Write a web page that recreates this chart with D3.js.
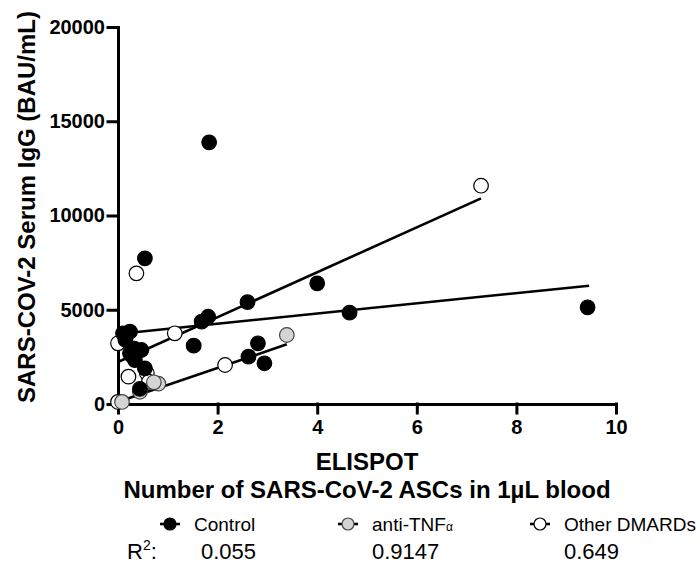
<!DOCTYPE html>
<html>
<head>
<meta charset="utf-8">
<script src="https://cdn.jsdelivr.net/npm/d3@7"></script>
<style>
  body { margin: 0; background: #fff; }
  text { font-family: "Liberation Sans", Arial, sans-serif; }
  .axis text { font-size: 20px; font-weight: bold; fill: #000; }
</style>
</head>
<body>
<svg id="chart" width="700" height="567"></svg>
<script>
// values
var groups = ['Control', 'anti-TNF', 'Other DMARDs'];
var r2Labels = ['0.055', '0.9147', '0.649'];
var xTicks = [0, 2, 4, 6, 8, 10];
var yTicks = [0, 5000, 10000, 15000, 20000];

var controlX = [0.10, 0.24, 0.24, 0.34, 0.47, 0.27, 0.54, 0.44, 0.54, 1.83, 1.52, 1.68, 1.81, 2.60, 2.81, 2.62, 2.94, 4.00, 4.65, 9.43, 0.33, 0.15];
var controlY = [3750, 3835, 2690, 2330, 2865, 2580, 1890, 800, 7730, 13880, 3095, 4366, 4630, 5400, 3220, 2510, 2160, 6400, 4845, 5130, 2930, 3400];

var tnfX = [0.08, 0.44, 0.81, 0.72, 3.39];
var tnfY = [110, 650, 1080, 1150, 3660];

var otherX = [0.00, 0.00, 0.21, 0.37, 0.58, 0.62, 1.14, 2.15, 7.29];
var otherY = [3220, 110, 1450, 6930, 1630, 1180, 3750, 2070, 11580];

// regression lines: intercept, slope, x from, x to
var fitIntercept = [3720, 110, 2230];
var fitSlope = [270, 901, 1190];
var fitFrom = [0.04, 0.08, 0.0];
var fitTo = [9.46, 3.39, 7.29];

var fills = ['#000', '#d4d4d4', '#fff'];
var strokes = ['#000', '#444', '#000'];

var svg = d3.select('#chart');
var x = d3.scaleLinear().domain([0, 10]).range([118, 616]);
var y = d3.scaleLinear().domain([0, 20000]).range([404, 27]);

// axes
var xAxis = svg.append('g').attr('class', 'axis').attr('transform', 'translate(0,404)')
    .call(d3.axisBottom(x).tickValues(xTicks).tickSize(9).tickSizeOuter(0).tickPadding(7).tickFormat(d3.format('d')));
var yAxis = svg.append('g').attr('class', 'axis').attr('transform', 'translate(118,0)')
    .call(d3.axisLeft(y).tickValues(yTicks).tickSize(10).tickSizeOuter(0).tickPadding(3).tickFormat(d3.format('d')));
[xAxis, yAxis].forEach(function(a){
    a.attr('font-size', 20).attr('font-weight', 'bold').attr('font-family', '"Liberation Sans", Arial, sans-serif');
    a.selectAll('path, line').attr('stroke', '#000').attr('stroke-width', 3).attr('stroke-linecap', 'square');
});

// fit lines
var lines = svg.append('g');
for (var i = 0; i < groups.length; i++){
    lines.append('line')
        .attr('x1', x(fitFrom[i])).attr('y1', y(fitIntercept[i] + fitSlope[i]*fitFrom[i]))
        .attr('x2', x(fitTo[i])).attr('y2', y(fitIntercept[i] + fitSlope[i]*fitTo[i]))
        .attr('stroke', '#000').attr('stroke-width', 2.6);
}

// points, drawn other -> anti-TNF -> control
var sets = [[controlX, controlY], [tnfX, tnfY], [otherX, otherY]];
var dots = svg.append('g');
[2, 1, 0].forEach(function(g){
    var xs = sets[g][0], ys = sets[g][1];
    dots.selectAll('.g' + g).data(d3.range(xs.length)).enter().append('circle')
        .attr('class', 'g' + g)
        .attr('cx', function(d){ return x(xs[d]); })
        .attr('cy', function(d){ return y(ys[d]); })
        .attr('r', 7.3)
        .attr('fill', fills[g]).attr('stroke', strokes[g]).attr('stroke-width', 1.2);
});

// axis titles
svg.append('text').attr('transform', 'translate(35,207) rotate(-90)')
    .attr('text-anchor', 'middle').attr('font-size', '24px').attr('font-weight', 'bold')
    .text('SARS-COV-2 Serum IgG (BAU/mL)');
svg.append('text').attr('x', 367).attr('y', 470)
    .attr('text-anchor', 'middle').attr('font-size', '24px').attr('font-weight', 'bold')
    .text('ELISPOT');
svg.append('text').attr('x', 367).attr('y', 498)
    .attr('text-anchor', 'middle').attr('font-size', '24px').attr('font-weight', 'bold')
    .text('Number of SARS-CoV-2 ASCs in 1\u00b5L blood');

// legend
var legendX = [170, 348, 540];
var legend = svg.append('g');
for (var i = 0; i < groups.length; i++){
    var lx = legendX[i];
    legend.append('line').attr('x1', lx - 10).attr('x2', lx + 10).attr('y1', 524).attr('y2', 524)
        .attr('stroke', '#000').attr('stroke-width', 2.6);
    legend.append('circle').attr('cx', lx).attr('cy', 524).attr('r', 6)
        .attr('fill', fills[i]).attr('stroke', strokes[i]).attr('stroke-width', 1.2);
    var t = legend.append('text').attr('x', lx + 24).attr('y', 531).attr('font-size', '19px').attr('fill', '#000');
    if (groups[i] == 'anti-TNF'){
        t.text('anti-TNF');
        t.append('tspan').attr('font-size', '12px').text('\u03b1');
    } else {
        t.text(groups[i]);
    }
    legend.append('text').attr('x', i == 0 ? 201 : lx + 24).attr('y', 559)
        .attr('font-size', '22px').attr('fill', '#000').text(r2Labels[i]);
}
var r2 = legend.append('text').attr('x', 127).attr('y', 559).attr('font-size', '22px').attr('fill', '#000');
r2.append('tspan').text('R');
r2.append('tspan').attr('font-size', '14px').attr('dy', -9).text('2');
r2.append('tspan').attr('dy', 9).text(':');
</script>
</body>
</html>
